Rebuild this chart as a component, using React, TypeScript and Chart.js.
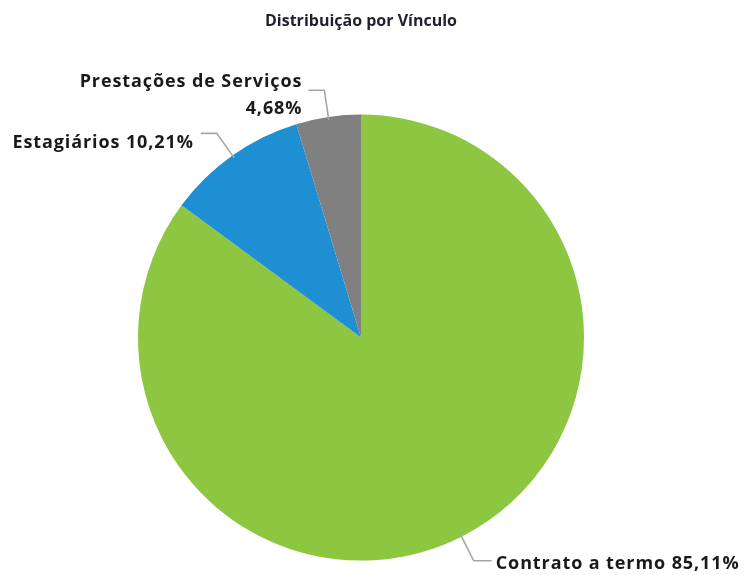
import React, { useEffect, useRef } from "react";
import { Chart, registerables } from "chart.js";

Chart.register(...registerables);

const categories = ["Contrato a termo", "Estagiários", "Prestações de Serviços"];
const values = [85.11, 10.21, 4.68];
const valueLabels = ["85,11%", "10,21%", "4,68%"];
const colors = ["#8DC641", "#1F8FD3", "#808080"];
const titleText = "Distribuição por Vínculo";

const FONT = "'Open Sans', 'DejaVu Sans', sans-serif";

const labelPlugin = {
  id: "leaderLabels",
  afterDatasetsDraw(chart: any) {
    const ctx = chart.ctx;
    const meta = chart.getDatasetMeta(0);
    ctx.save();
    ctx.font = `bold 18px ${FONT}`;
    try {
      (ctx as any).letterSpacing = "0.9px";
    } catch (e) {}
    ctx.fillStyle = "#1a1a1a";
    ctx.strokeStyle = "#a6a6a6";
    ctx.lineWidth = 1.6;
    meta.data.forEach((arc: any, i: number) => {
      const { x, y, startAngle, endAngle, outerRadius } = arc.getProps(
        ["x", "y", "startAngle", "endAngle", "outerRadius"],
        true
      );
      const mid = (startAngle + endAngle) / 2;
      const c = Math.cos(mid), s = Math.sin(mid);
      const p0x = x + c * (outerRadius - 3), p0y = y + s * (outerRadius - 3);
      const p1x = x + c * (outerRadius + 27), p1y = y + s * (outerRadius + 27);
      const right = c >= 0;
      const p2x = p1x + (right ? 18 : -16);
      ctx.beginPath();
      ctx.moveTo(p0x, p0y);
      ctx.lineTo(p1x, p1y);
      ctx.lineTo(p2x, p1y);
      ctx.stroke();
      ctx.textBaseline = "middle";
      if (right) {
        ctx.textAlign = "left";
        ctx.fillText(`${categories[i]} ${valueLabels[i]}`, p2x + 4, p1y + 3);
      } else if (i === 2) {
        ctx.textAlign = "right";
        ctx.fillText(categories[i], p2x - 6, p1y - 8);
        ctx.fillText(valueLabels[i], p2x - 6, p1y + 19);
      } else {
        ctx.textAlign = "right";
        ctx.fillText(`${categories[i]} ${valueLabels[i]}`, p2x - 7, p1y + 9);
      }
    });
    ctx.restore();
  },
};

export default function App() {
  const ref = useRef<HTMLCanvasElement | null>(null);
  useEffect(() => {
    document.body.style.margin = "0";
    const chart = new Chart(ref.current!, {
      type: "pie",
      data: {
        labels: categories,
        datasets: [
          {
            data: values,
            backgroundColor: colors,
            borderWidth: 0,
          },
        ],
      },
      options: {
        animation: false,
        responsive: false,
        events: [],
        layout: { padding: { left: 138, right: 164, top: 0, bottom: 14 } },
        plugins: {
          legend: { display: false },
          tooltip: { enabled: false },
          title: {
            display: true,
            text: titleText,
            color: "#1f1f2f",
            font: { family: FONT, size: 16, weight: "bold" },
            padding: { top: 12, bottom: 83 },
          },
        },
      },
      plugins: [labelPlugin],
    });
    return () => chart.destroy();
  }, []);
  return (
    <div style={{ width: 748, height: 575 }}>
      <canvas ref={ref} width={748} height={575} />
    </div>
  );
}
